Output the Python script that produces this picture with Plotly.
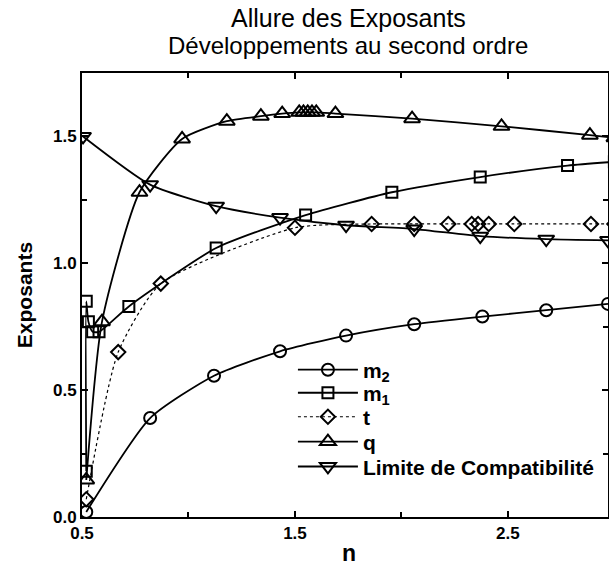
import plotly.graph_objects as go

# ---- data ----
m2_x = [0.52, 0.82, 1.12, 1.43, 1.74, 2.06, 2.38, 2.68, 2.97]
m2_y = [0.02, 0.39, 0.557, 0.653, 0.715, 0.76, 0.79, 0.815, 0.84]

m1_x = [0.52, 0.52, 0.53, 0.55, 0.58, 0.72, 1.13, 1.55, 1.955, 2.37, 2.78, 3.0]
m1_y = [0.18, 0.85, 0.77, 0.73, 0.73, 0.83, 1.06, 1.19, 1.28, 1.34, 1.385, 1.40]

t_x = [0.52, 0.67, 0.87, 1.5, 1.86, 2.06, 2.22, 2.33, 2.36, 2.41, 2.53, 2.89, 3.0]
t_y = [0.07, 0.65, 0.92, 1.14, 1.155, 1.155, 1.155, 1.155, 1.155, 1.155, 1.155, 1.155, 1.155]

q_x = [0.52, 0.594, 0.77, 0.97, 1.18, 1.34, 1.44, 1.52, 1.54, 1.56, 1.58, 1.60, 1.69, 2.05, 2.47, 2.885, 3.0]
q_y = [0.146, 0.77, 1.28, 1.49, 1.56, 1.58, 1.59, 1.595, 1.595, 1.595, 1.595, 1.595, 1.59, 1.57, 1.54, 1.505, 1.495]

lim_x = [0.505, 0.82, 1.13, 1.43, 1.74, 2.06, 2.37, 2.68, 2.97]
lim_y = [1.5, 1.31, 1.225, 1.18, 1.15, 1.135, 1.107, 1.095, 1.09]

x_ticks = [0.5, 1.5, 2.5]
x_tick_text = ["0.5", "1.5", "2.5"]
y_ticks = [0.0, 0.5, 1.0, 1.5]
y_tick_text = ["0.0", "0.5", "1.0", "1.5"]

series_names = ["m<sub>2</sub>", "m<sub>1</sub>", "t", "q", "Limite de Compatibilité"]

FONT = "Liberation Sans, Arial, Helvetica, sans-serif"

series = [
    (series_names[0], m2_x, m2_y, "circle-open", 12, "solid", 1.8),
    (series_names[1], m1_x, m1_y, "square-open", 11, "solid", 1.8),
    (series_names[2], t_x, t_y, "diamond-open", 11, "dot", 1.2),
    (series_names[3], q_x, q_y, "triangle-up-open", 14, "solid", 1.8),
    (series_names[4], lim_x, lim_y, "triangle-down-open", 14, "solid", 1.8),
]

# legend rows (paper y of each row centre)
legend_rows = [0.331, 0.279, 0.225, 0.169, 0.113]

fig = go.Figure()
for i, (name, xs, ys, sym, size, dash, w) in enumerate(series):
    lg = "legend" if i == 0 else f"legend{i + 1}"
    fig.add_trace(go.Scatter(
        x=xs, y=ys, name=name, mode="lines+markers", legend=lg,
        line=dict(color="black", width=w, dash=dash, shape="spline", smoothing=0.6),
        marker=dict(symbol=sym, size=size, color="black", line=dict(width=2, color="black")),
    ))

layout_legends = {}
for i, yv in enumerate(legend_rows):
    key = "legend" if i == 0 else f"legend{i + 1}"
    layout_legends[key] = dict(
        x=0.401, y=yv, xanchor="left", yanchor="middle",
        bgcolor="rgba(0,0,0,0)", borderwidth=0,
        font=dict(size=21, color="black", family=FONT, weight="bold"),
        itemwidth=60,
    )

fig.update_layout(
    width=609, height=568,
    margin=dict(l=82, r=1, t=73, b=51),
    paper_bgcolor="white", plot_bgcolor="white",
    font=dict(family=FONT, color="black"),
    showlegend=True,
    **layout_legends,
)

annotations = [
    dict(text="Allure des Exposants", x=0.506, y=1.124, xref="paper", yref="paper",
         xanchor="center", yanchor="middle", showarrow=False,
         font=dict(size=25, color="black", family=FONT)),
    dict(text="Développements au second ordre", x=0.506, y=1.063, xref="paper", yref="paper",
         xanchor="center", yanchor="middle", showarrow=False,
         font=dict(size=24, color="black", family=FONT)),
    dict(text="Exposants", x=-0.110, y=0.50, xref="paper", yref="paper", textangle=-90,
         xanchor="center", yanchor="middle", showarrow=False,
         font=dict(size=21, color="black", family=FONT, weight="bold")),
    dict(text="n", x=0.508, y=-0.081, xref="paper", yref="paper",
         xanchor="center", yanchor="middle", showarrow=False,
         font=dict(size=23, color="black", family=FONT, weight="bold")),
]
fig.update_layout(annotations=annotations)

fig.update_xaxes(
    range=[0.5, 2.97], automargin=False,
    tickvals=x_ticks, ticktext=x_tick_text,
    ticks="inside", ticklen=6, tickwidth=1.5, tickcolor="black",
    minor=dict(dtick=0.5, tick0=0.5, ticks="inside", ticklen=5, tickcolor="black", showgrid=False),
    showline=True, linecolor="black", linewidth=2, mirror="allticks",
    showgrid=False, zeroline=False,
    tickfont=dict(size=17, weight="bold", family=FONT),
)
fig.update_yaxes(
    range=[0, 1.75], automargin=False,
    tickvals=y_ticks, ticktext=y_tick_text,
    ticks="inside", ticklen=6, tickwidth=1.5, tickcolor="black",
    minor=dict(dtick=0.25, tick0=0, ticks="inside", ticklen=5, tickcolor="black", showgrid=False),
    showline=True, linecolor="black", linewidth=2, mirror="allticks",
    showgrid=False, zeroline=False,
    tickfont=dict(size=17, weight="bold", family=FONT),
)

fig.write_html(
    "out.html",
    config={"displayModeBar": False},
    post_script="document.body.style.margin='0';document.body.style.overflow='hidden';",
)
